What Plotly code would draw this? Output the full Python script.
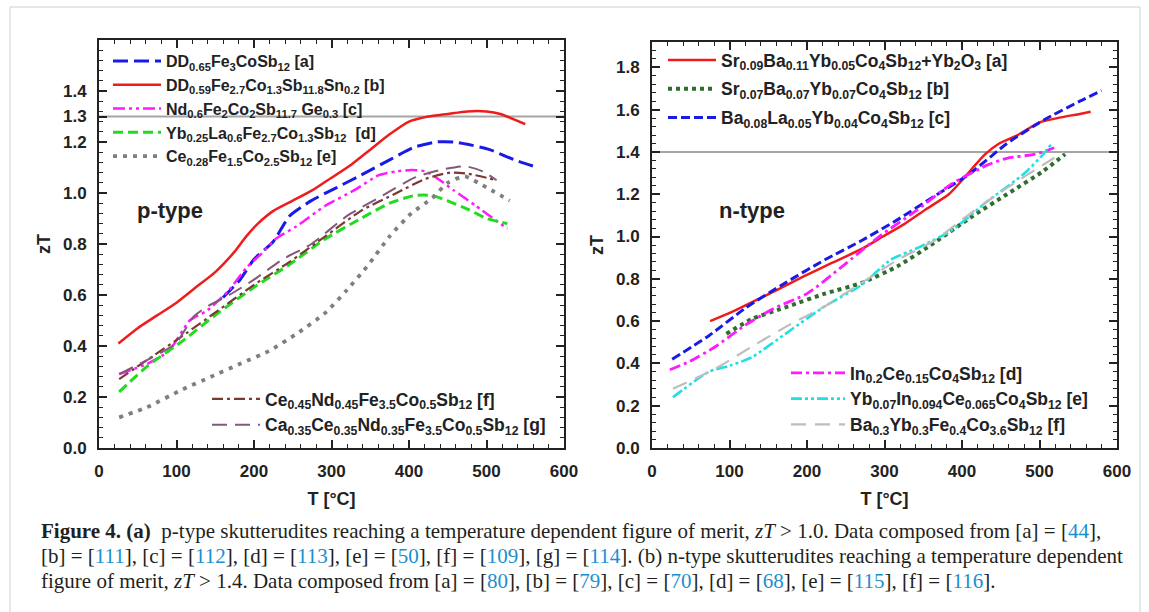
import plotly.graph_objects as go

W, H = 1149, 612

# ---------------- data: p-type (left) ----------------
pa_T = [160, 182, 200, 225, 246, 274, 306, 338, 375, 407, 435, 458, 477, 504, 536, 566]
pa_zT = [0.59, 0.66, 0.74, 0.81, 0.91, 0.97, 1.02, 1.07, 1.13, 1.18, 1.20, 1.20, 1.19, 1.17, 1.13, 1.10]

pb_T = [25, 50, 75, 100, 125, 150, 175, 190, 205, 225, 250, 275, 300, 325, 350, 375, 400, 425, 450, 475, 500, 518, 550]
pb_zT = [0.41, 0.47, 0.52, 0.57, 0.63, 0.69, 0.77, 0.83, 0.88, 0.93, 0.97, 1.01, 1.06, 1.11, 1.17, 1.23, 1.28, 1.30, 1.31, 1.32, 1.32, 1.31, 1.27]

pc_T = [26, 62, 90, 117, 140, 168, 191, 209, 228, 255, 292, 329, 361, 384, 403, 421, 440, 458, 486, 527]
pc_zT = [0.29, 0.33, 0.38, 0.50, 0.54, 0.62, 0.71, 0.76, 0.82, 0.87, 0.95, 1.01, 1.07, 1.085, 1.09, 1.085, 1.05, 1.01, 0.95, 0.86]

pd_T = [26, 62, 108, 154, 200, 246, 292, 338, 375, 407, 430, 449, 477, 500, 527]
pd_zT = [0.22, 0.32, 0.42, 0.53, 0.63, 0.72, 0.82, 0.90, 0.96, 0.99, 0.99, 0.97, 0.935, 0.90, 0.88]

pe_T = [26, 62, 108, 145, 182, 219, 256, 292, 320, 348, 375, 403, 430, 450, 472, 495, 530]
pe_zT = [0.12, 0.16, 0.23, 0.28, 0.33, 0.38, 0.45, 0.53, 0.62, 0.72, 0.83, 0.92, 0.98, 1.04, 1.065, 1.03, 0.97]

pf_T = [26, 62, 108, 154, 200, 246, 292, 338, 384, 421, 453, 477, 513]
pf_zT = [0.27, 0.345, 0.44, 0.54, 0.64, 0.73, 0.83, 0.93, 1.00, 1.055, 1.08, 1.075, 1.05]

pg_T = [26, 62, 99, 122, 140, 168, 200, 237, 274, 320, 366, 407, 440, 472, 495, 513]
pg_zT = [0.29, 0.345, 0.41, 0.515, 0.555, 0.60, 0.66, 0.74, 0.80, 0.91, 0.99, 1.06, 1.09, 1.105, 1.085, 1.05]

# ---------------- data: n-type (right) ----------------
na_T = [75, 101, 129, 157, 195, 232, 270, 298, 326, 354, 383, 401, 415, 430, 448, 472, 500, 523, 552, 566]
na_zT = [0.60, 0.64, 0.69, 0.74, 0.81, 0.875, 0.94, 1.00, 1.06, 1.13, 1.20, 1.27, 1.33, 1.39, 1.44, 1.48, 1.54, 1.56, 1.58, 1.59]

nb_T = [96, 129, 176, 223, 270, 317, 364, 411, 458, 505, 533]
nb_zT = [0.54, 0.61, 0.67, 0.73, 0.78, 0.86, 0.97, 1.09, 1.20, 1.31, 1.39]

nc_T = [26, 73, 120, 167, 223, 270, 317, 364, 411, 458, 505, 552, 580]
nc_zT = [0.42, 0.53, 0.66, 0.77, 0.89, 0.98, 1.08, 1.19, 1.30, 1.44, 1.55, 1.64, 1.69]

nd_T = [23, 49, 82, 120, 157, 200, 246, 293, 340, 387, 434, 458, 495, 519]
nd_zT = [0.37, 0.41, 0.48, 0.58, 0.66, 0.73, 0.86, 1.00, 1.12, 1.25, 1.34, 1.37, 1.39, 1.42]

ne_T = [27, 73, 101, 129, 176, 223, 270, 308, 345, 387, 434, 481, 505, 516]
ne_zT = [0.24, 0.36, 0.39, 0.43, 0.55, 0.67, 0.77, 0.89, 0.95, 1.03, 1.17, 1.30, 1.39, 1.44]

nf_T = [27, 82, 129, 176, 223, 270, 317, 364, 411, 458, 505, 531]
nf_zT = [0.28, 0.375, 0.48, 0.58, 0.67, 0.78, 0.89, 0.98, 1.11, 1.23, 1.34, 1.40]

P_THRESHOLD = 1.3
N_THRESHOLD = 1.4

p_names = [
    "DD<sub>0.65</sub>Fe<sub>3</sub>CoSb<sub>12</sub> [a]",
    "DD<sub>0.59</sub>Fe<sub>2.7</sub>Co<sub>1.3</sub>Sb<sub>11.8</sub>Sn<sub>0.2</sub> [b]",
    "Nd<sub>0.6</sub>Fe<sub>2</sub>Co<sub>2</sub>Sb<sub>11.7</sub> Ge<sub>0.3</sub> [c]",
    "Yb<sub>0.25</sub>La<sub>0.6</sub>Fe<sub>2.7</sub>Co<sub>1.3</sub>Sb<sub>12</sub>  [d]",
    "Ce<sub>0.28</sub>Fe<sub>1.5</sub>Co<sub>2.5</sub>Sb<sub>12</sub> [e]",
    "Ce<sub>0.45</sub>Nd<sub>0.45</sub>Fe<sub>3.5</sub>Co<sub>0.5</sub>Sb<sub>12</sub> [f]",
    "Ca<sub>0.35</sub>Ce<sub>0.35</sub>Nd<sub>0.35</sub>Fe<sub>3.5</sub>Co<sub>0.5</sub>Sb<sub>12</sub> [g]",
]
n_names = [
    "Sr<sub>0.09</sub>Ba<sub>0.11</sub>Yb<sub>0.05</sub>Co<sub>4</sub>Sb<sub>12</sub>+Yb<sub>2</sub>O<sub>3</sub> [a]",
    "Sr<sub>0.07</sub>Ba<sub>0.07</sub>Yb<sub>0.07</sub>Co<sub>4</sub>Sb<sub>12</sub> [b]",
    "Ba<sub>0.08</sub>La<sub>0.05</sub>Yb<sub>0.04</sub>Co<sub>4</sub>Sb<sub>12</sub> [c]",
    "In<sub>0.2</sub>Ce<sub>0.15</sub>Co<sub>4</sub>Sb<sub>12</sub> [d]",
    "Yb<sub>0.07</sub>In<sub>0.094</sub>Ce<sub>0.065</sub>Co<sub>4</sub>Sb<sub>12</sub> [e]",
    "Ba<sub>0.3</sub>Yb<sub>0.3</sub>Fe<sub>0.4</sub>Co<sub>3.6</sub>Sb<sub>12</sub> [f]",
]

fig = go.Figure()

def add(x, y, name, color, dash, width, axis, legend, group):
    fig.add_trace(go.Scatter(
        x=x, y=y, name=name, mode="lines",
        line=dict(color=color, dash=dash, width=width, shape="spline", smoothing=0.6),
        xaxis="x" if axis == 1 else "x2", yaxis="y" if axis == 1 else "y2",
        legend=legend, legendgroup=group, showlegend=True,
    ))

add(pa_T, pa_zT, p_names[0], "#1a1ae6", "15px,6px", 3, 1, "legend", "pa")
add(pb_T, pb_zT, p_names[1], "#ee1c1c", "solid", 2.5, 1, "legend", "pb")
add(pc_T, pc_zT, p_names[2], "#ff1aff", "12px,4px,3px,4px,3px,4px", 2.5, 1, "legend", "pc")
add(pd_T, pd_zT, p_names[3], "#1edc1e", "10px,5px", 3, 1, "legend", "pd")
add(pe_T, pe_zT, p_names[4], "#7f7f7f", "4px,6px", 3.8, 1, "legend", "pe")
add(pf_T, pf_zT, p_names[5], "#7a3a32", "11px,4px,3px,4px", 2.2, 1, "legend2", "pf")
add(pg_T, pg_zT, p_names[6], "#84587a", "15px,8px", 2, 1, "legend2", "pg")

add(na_T, na_zT, n_names[0], "#ee1c1c", "solid", 2.5, 2, "legend3", "na")
add(nb_T, nb_zT, n_names[1], "#2f6e2f", "4px,4px", 4, 2, "legend3", "nb")
add(nc_T, nc_zT, n_names[2], "#1a1ae6", "9px,4px", 3, 2, "legend3", "nc")
add(nd_T, nd_zT, n_names[3], "#ff1aff", "11px,4px,3px,4px", 2.8, 2, "legend4", "nd")
add(ne_T, ne_zT, n_names[4], "#22e0e0", "11px,3px,3px,3px,3px,3px", 2.6, 2, "legend4", "ne")
add(nf_T, nf_zT, n_names[5], "#bdbdbd", "15px,9px", 2.2, 2, "legend4", "nf")

tickfont = dict(family="Liberation Sans, Arial", size=17, color="#222", weight="bold")
titlefont = dict(family="Liberation Sans, Arial", size=18, color="#222", weight="bold")

def xaxis(domain, anchor):
    return dict(
        domain=domain, anchor=anchor, range=[0, 600], dtick=100, tick0=0,
        showline=True, linecolor="#222", linewidth=2, mirror="allticks",
        ticks="inside", ticklen=8, tickwidth=1.5, tickcolor="#222",
        minor=dict(dtick=20, tick0=0, ticks="inside", ticklen=4, tickwidth=1.2, tickcolor="#222"),
        showgrid=False, zeroline=False, tickfont=tickfont, ticklabelstandoff=7,
        title=dict(text="T [°C]", font=titlefont, standoff=12), automargin=False,
    )

def yaxis(domain, anchor, top, vals, texts):
    return dict(
        domain=domain, anchor=anchor, range=[0, top], tickmode="array",
        tickvals=vals, ticktext=texts,
        showline=True, linecolor="#222", linewidth=2, mirror="allticks",
        ticks="inside", ticklen=8, tickwidth=1.5, tickcolor="#222",
        minor=dict(dtick=0.04, tick0=0, ticks="inside", ticklen=4, tickwidth=1.2, tickcolor="#222"),
        showgrid=False, zeroline=False, tickfont=tickfont, ticklabelstandoff=7,
        title=dict(text="zT", font=titlefont, standoff=8), automargin=False,
    )

yl_vals = [0, 0.2, 0.4, 0.6, 0.8, 1.0, 1.2, 1.3, 1.4]
yl_text = ["0.0", "0.2", "0.4", "0.6", "0.8", "1.0", "1.2", "1.3", "1.4"]
yr_vals = [0, 0.2, 0.4, 0.6, 0.8, 1.0, 1.2, 1.4, 1.6, 1.8]
yr_text = ["0.0", "0.2", "0.4", "0.6", "0.8", "1.0", "1.2", "1.4", "1.6", "1.8"]

xl = [99 / W, 564 / W]
xr = [652 / W, 1117 / W]
ybot = (H - 448) / H
yl_dom = [ybot, (H - 40) / H]
yr_dom = [ybot, (H - 42) / H]

def legfont(size):
    return dict(family="Liberation Sans, Arial", size=size, color="#222", weight="bold")

def leg(xp, yp, gap, size, iw):
    return dict(x=xp / W, y=(H - yp) / H, xanchor="left", yanchor="top",
                bgcolor="rgba(0,0,0,0)", borderwidth=0, font=legfont(size),
                itemwidth=iw, tracegroupgap=gap, itemclick=False)

fig.update_layout(
    width=W, height=H, autosize=False,
    margin=dict(l=0, r=0, t=0, b=0),
    paper_bgcolor="white", plot_bgcolor="white",
    xaxis=xaxis(xl, "y"), yaxis=yaxis(yl_dom, "x", 1.6, yl_vals, yl_text),
    xaxis2=xaxis(xr, "y2"), yaxis2=yaxis(yr_dom, "x2", 1.92, yr_vals, yr_text),
    legend=leg(108, 44, 0, 16, 48),
    legend2=leg(207, 381, 0, 17.5, 48),
    legend3=leg(663, 42, 3, 17.5, 48),
    legend4=leg(786, 355, 0, 17.5, 54),
)

# threshold lines
fig.add_shape(type="line", xref="x domain", yref="y", x0=0, x1=1, y0=P_THRESHOLD, y1=P_THRESHOLD,
              line=dict(color="#a6a6a6", width=2), layer="below")
fig.add_shape(type="line", xref="x2 domain", yref="y2", x0=0, x1=1, y0=N_THRESHOLD, y1=N_THRESHOLD,
              line=dict(color="#a6a6a6", width=2), layer="below")

# panel labels
fig.add_annotation(x=92, y=0.93, xref="x", yref="y", text="p-type", showarrow=False,
                   font=dict(family="Liberation Sans, Arial", size=22, color="#222", weight="bold"))
fig.add_annotation(x=129, y=1.125, xref="x2", yref="y2", text="n-type", showarrow=False,
                   font=dict(family="Liberation Sans, Arial", size=22, color="#222", weight="bold"))

# outer frame
fig.add_shape(type="rect", xref="paper", yref="paper", x0=10 / W, x1=1140 / W, y0=-0.01, y1=(H - 7) / H,
              line=dict(color="#cfcfcf", width=1), layer="below")

# caption
B = "#1a8fd0"
def c(t):
    return f"<span style='color:{B}'>{t}</span>"

cap1 = ("<b>Figure 4.</b> <b>(a)</b>  p-type skutterudites reaching a temperature dependent figure of merit, <i>zT</i> &gt; 1.0. "
        f"Data composed from [a] = [{c('44')}],")
cap2 = (f"[b] = [{c('111')}], [c] = [{c('112')}], [d] = [{c('113')}], [e] = [{c('50')}], [f] = [{c('109')}], [g] = [{c('114')}]. "
        "(b) n-type skutterudites reaching a temperature dependent")
cap3 = (f"figure of merit, <i>zT</i> &gt; 1.4. Data composed from [a] = [{c('80')}], [b] = [{c('79')}], [c] = [{c('70')}], "
        f"[d] = [{c('68')}], [e] = [{c('115')}], [f] = [{c('116')}].")
capfont = dict(family="Liberation Serif, Times New Roman", size=21, color="#231f20")
for i, t in enumerate([cap1, cap2, cap3]):
    fig.add_annotation(x=39 / W, y=(H - (531 + 25 * i)) / H, xref="paper", yref="paper",
                       xanchor="left", yanchor="middle", text=t, showarrow=False, font=capfont, align="left")

fig.write_html("out.html")
